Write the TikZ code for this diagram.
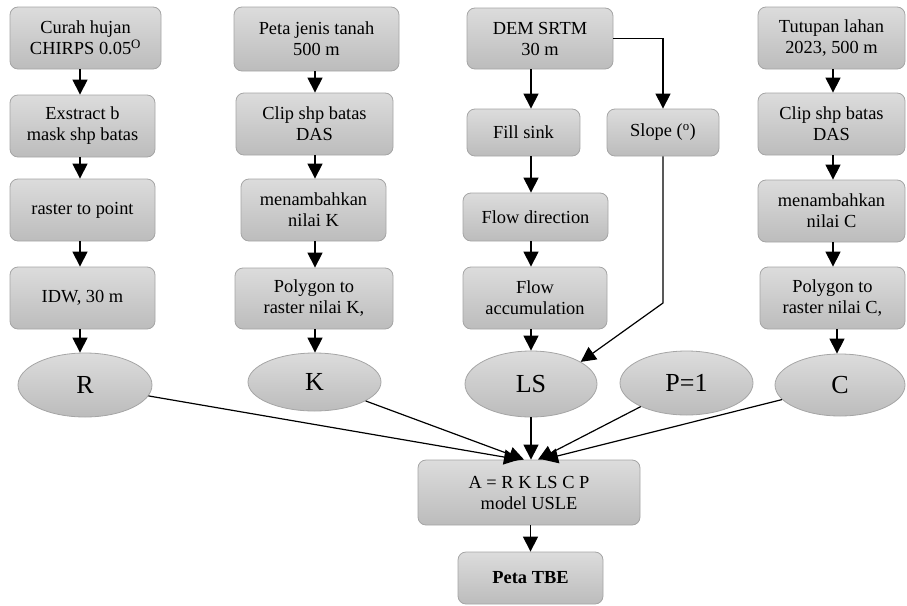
\documentclass[tikz,border=0pt]{standalone}
\usepackage{fontspec}
\setmainfont{Liberation Serif}
\usetikzlibrary{arrows.meta,calc,shapes.geometric}
\definecolor{gtop}{RGB}{220,220,220}
\definecolor{gbot}{RGB}{188,188,188}
\definecolor{gedge}{RGB}{165,165,165}
\begin{document}
\begin{tikzpicture}[x=1pt,y=-1pt,
 boxnode/.style={draw=gedge, line width=0.8pt, rounded corners=8pt, top color=gtop, bottom color=gbot, align=center, font=\fontsize{18.4}{21}\selectfont, inner sep=0pt},
 ellnode/.style={ellipse, draw=gedge, line width=0.8pt, top color=gtop, bottom color=gbot, font=\fontsize{26}{30}\selectfont, inner sep=0pt},
 arr/.style={-{Triangle[length=15pt,width=15pt]}, line width=1.2pt},
 ln/.style={line width=1.2pt}]
\useasboundingbox (0,0) rectangle (907,605);

% column 1
\node[boxnode, minimum width=151pt, minimum height=62pt] (c1a) at (85.5,38) {Curah hujan\\CHIRPS 0.05\textsuperscript{O}};
\node[boxnode, minimum width=145pt, minimum height=62pt] (c1b) at (82.5,126) {Exstract b\\mask shp batas};
\node[boxnode, minimum width=145pt, minimum height=62pt] (c1c) at (82.5,210) {raster to point};
\node[boxnode, minimum width=145pt, minimum height=62pt] (c1d) at (82.5,298) {IDW, 30 m};
\node[ellnode, minimum width=134pt, minimum height=64pt] (R) at (85,385) {R};

% column 2
\node[boxnode, minimum width=165pt, minimum height=64pt] (c2a) at (316.5,39) {Peta jenis tanah\\500 m};
\node[boxnode, minimum width=157pt, minimum height=62pt] (c2b) at (314.5,124) {Clip shp batas\\DAS};
\node[boxnode, minimum width=145pt, minimum height=62pt] (c2c) at (313.5,210) {menambahkan\\nilai K};
\node[boxnode, minimum width=158pt, minimum height=61pt] (c2d) at (314,298.5) {Polygon to\\raster nilai K,};
\node[ellnode, minimum width=133pt, minimum height=58pt] (K) at (314.5,382) {K};

% column 3
\node[boxnode, minimum width=146pt, minimum height=61pt] (c3a) at (540,38.5) {DEM SRTM\\30 m};
\node[boxnode, minimum width=113pt, minimum height=47pt] (fill) at (523.5,132.5) {Fill sink};
\node[boxnode, minimum width=112pt, minimum height=47pt] (slope) at (663,132.5) {Slope (\textsuperscript{o})};
\node[boxnode, minimum width=145pt, minimum height=48pt] (fdir) at (535.5,217) {Flow direction};
\node[boxnode, minimum width=144pt, minimum height=62pt] (facc) at (535,298) {Flow\\accumulation};
\node[ellnode, minimum width=132pt, minimum height=66pt] (LS) at (531,384) {LS};
\node[ellnode, minimum width=133pt, minimum height=64pt] (P) at (686.5,383) {P=1};

% column 4
\node[boxnode, minimum width=147pt, minimum height=62pt] (c4a) at (831.5,38) {Tutupan lahan\\2023, 500 m};
\node[boxnode, minimum width=147pt, minimum height=62pt] (c4b) at (831.5,124) {Clip shp batas\\DAS};
\node[boxnode, minimum width=147pt, minimum height=62pt] (c4c) at (831.5,211) {menambahkan\\nilai C};
\node[boxnode, minimum width=145pt, minimum height=62pt] (c4d) at (832.5,298) {Polygon to\\raster nilai C,};
\node[ellnode, minimum width=130pt, minimum height=62pt] (C) at (840,385) {C};

% bottom
\node[boxnode, minimum width=222pt, minimum height=65pt] (A) at (529,492.5) {A = R K LS C P\\model USLE};
\node[boxnode, minimum width=145pt, minimum height=52pt] (TBE) at (530.5,578) {\textbf{Peta TBE}};

% arrows column 1
\draw[arr] (c1a.south -| 80,0) -- (c1b.north -| 80,0);
\draw[arr] (c1b.south -| 80,0) -- (c1c.north -| 80,0);
\draw[arr] (c1c.south -| 80,0) -- (c1d.north -| 80,0);
\draw[arr] (c1d.south -| 80,0) -- (R.north -| 80,0);
% arrows column 2
\draw[arr] (c2a.south -| 315,0) -- (c2b.north -| 315,0);
\draw[arr] (c2b.south -| 315,0) -- (c2c.north -| 315,0);
\draw[arr] (c2c.south -| 315,0) -- (c2d.north -| 315,0);
\draw[arr] (c2d.south -| 315,0) -- (K.north -| 315,0);
% arrows column 3
\draw[arr] (c3a.south -| LS) -- (fill.north -| LS);
\draw[arr] (fill.south -| LS) -- (fdir.north -| LS);
\draw[arr] (fdir.south -| LS) -- (facc.north -| LS);
\draw[arr] (facc.south -| LS) -- (LS.north);
\draw[arr] (c3a.east) -| (slope.north);
\coordinate (sbend) at (slope.south |- 0,303);
\draw[arr] (slope.south) -- (sbend) -- (LS.24);
% arrows column 4
\draw[arr] (c4a.south -| 833,0) -- (c4b.north -| 833,0);
\draw[arr] (c4b.south -| 833,0) -- (c4c.north -| 833,0);
\draw[arr] (c4c.south -| 833,0) -- (c4d.north -| 833,0);
\draw[arr] (c4d.south -| 837,0) -- (C.north -| 837,0);

% converging arrows
\coordinate (tR) at ($(A.north)+(-10,0)$);
\coordinate (tK) at ($(A.north)+(-5,0)$);
\coordinate (tP) at ($(A.north)+(9,0)$);
\coordinate (tC) at ($(A.north)+(14,0)$);
\draw[arr] (R) -- (tR);
\draw[arr] (K) -- (tK);
\draw[arr] (LS.south) -- (LS.south |- A.north);
\draw[arr] (P) -- (tP);
\draw[arr] (C) -- (tC);
\draw[arr] (A.south -| TBE) -- (TBE.north);
\end{tikzpicture}
\end{document}
